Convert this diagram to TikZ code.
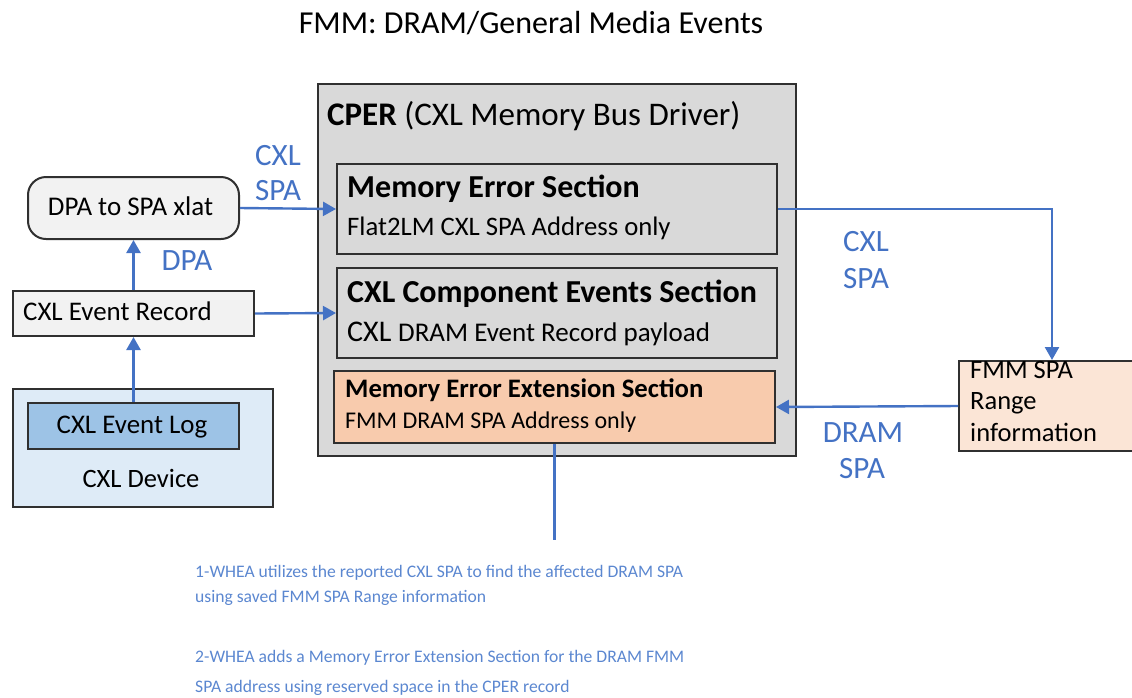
\documentclass[tikz,border=0pt]{standalone}
\usepackage{fontspec}
\setmainfont{Carlito}
\usetikzlibrary{arrows.meta}
\definecolor{flow}{HTML}{4472C4}
\definecolor{note}{HTML}{5B87D0}
\definecolor{edge}{HTML}{303030}
\definecolor{cpergray}{HTML}{D9D9D9}
\definecolor{peach}{HTML}{F8CBAD}
\definecolor{lightpeach}{HTML}{FBE5D6}
\definecolor{devblue}{HTML}{DEEBF7}
\definecolor{logblue}{HTML}{9DC3E6}
\definecolor{paper}{HTML}{F2F2F2}
\newcommand{\fs}[1]{\fontsize{#1}{#1}\selectfont}
\tikzset{
  box/.style={draw=edge, line width=2pt, inner sep=0pt, anchor=north west},
  txt/.style={inner sep=0pt, anchor=base west, text=black},
  lbl/.style={inner sep=0pt, anchor=base, text=flow, font=\fs{31}},
  arr/.style={draw=flow, line width=2.4pt, -{Triangle[length=13pt,width=14pt]}},
  wire/.style={draw=flow, line width=2.4pt},
  notetxt/.style={inner sep=0pt, anchor=base west, text=note, font=\fs{17.6}}
}
\begin{document}
\begin{tikzpicture}[x=1pt,y=-1pt]
\useasboundingbox (0,0) rectangle (1132,697);

% heading
\node[inner sep=0pt, anchor=base] (title) at (531,33) {\fs{32}FMM: DRAM/General Media Events};

% CPER container and its sections
\node[box, line width=2.4pt, fill=cpergray, minimum width=478pt, minimum height=372pt] (cper) at (317,83) {};
\node[txt] (cpertitle) at (327,125) {\fs{33}\textbf{CPER} (CXL Memory Bus Driver)};

\node[box, fill=cpergray, minimum width=440pt, minimum height=90pt] (mes) at (336,163) {};
\node[txt] (mest) at (347,197) {\fs{32}\textbf{Memory Error Section}};
\node[txt] (mesd) at (347,235) {\fs{26.7}Flat2LM CXL SPA Address only};

\node[box, fill=cpergray, minimum width=440pt, minimum height=90pt] (ces) at (336,267) {};
\node[txt] (cest) at (347,302) {\fs{32}\textbf{CXL Component Events Section}};
\node[txt] (cesd) at (347,341) {\fs{30}CXL \fs{27}DRAM Event Record payload};

\node[box, fill=peach, minimum width=441pt, minimum height=72pt] (ext) at (333,370) {};
\node[txt] (extt) at (345,397) {\fs{26.7}\textbf{Memory Error Extension Section}};
\node[txt] (extd) at (345,428) {\fs{24}FMM DRAM SPA Address only};

% device side
\node[box, fill=devblue, minimum width=260pt, minimum height=118pt] (dev) at (12,388) {};
\node[inner sep=0pt, anchor=base] (devt) at (141,487) {\fs{26.5}CXL Device};
\node[box, fill=logblue, minimum width=211pt, minimum height=46pt] (log) at (27,402) {};
\node[inner sep=0pt, anchor=base] (logt) at (132,433) {\fs{26.9}CXL Event Log};

\node[box, fill=paper, minimum width=241pt, minimum height=45pt] (rec) at (12,290) {};
\node[txt] (rect) at (23,320) {\fs{26.9}CXL Event Record};

\node[box, fill=paper, rounded corners=18pt, minimum width=211pt, minimum height=62pt] (xlat) at (27,176) {};
\node[inner sep=0pt, anchor=base] (xlatt) at (130.5,215) {\fs{27}DPA to SPA xlat};

% range information
\node[box, fill=lightpeach, minimum width=174pt, minimum height=90pt] (fmm) at (958,360) {};
\node[inner sep=0pt, align=left, anchor=north west, font=\fontsize{26.5}{31.5}\selectfont] (fmmt) at (970,361) {FMM SPA\\Range\\information};

% connectors
\draw[arr] (log.north) -- (rec.south);
\draw[arr] (rec.north) -- (xlat.south);
\draw[arr] (xlat.east) -- (mes.west);
\draw[arr] (rec.east) -- (ces.west);
\draw[arr] (mes.east) -| ([xshift=94pt]fmm.north west);
\draw[arr] (fmm.west) -- (ext.east);
\coordinate (tail) at (ext.south|-0,540);
\draw[wire] (ext.south) -- (tail);

% flow labels
\node[lbl] (l1a) at (278,165) {CXL};
\node[lbl] (l1b) at (278,200) {SPA};
\node[lbl] (l2) at (187,270) {DPA};
\node[lbl] (l3a) at (866,251) {CXL};
\node[lbl] (l3b) at (866,288) {SPA};
\node[lbl] (l4a) at (863,442) {DRAM};
\node[lbl] (l4b) at (862,478) {SPA};

% notes
\node[notetxt] (n1) at (195,577) {1-WHEA utilizes the reported CXL SPA to find the affected DRAM SPA};
\node[notetxt] (n2) at (195,602) {using saved FMM SPA Range information};
\node[notetxt] (n3) at (195,662) {2-WHEA adds a Memory Error Extension Section for the DRAM FMM};
\node[notetxt] (n4) at (195,692) {SPA address using reserved space in the CPER record};
\end{tikzpicture}
\end{document}
